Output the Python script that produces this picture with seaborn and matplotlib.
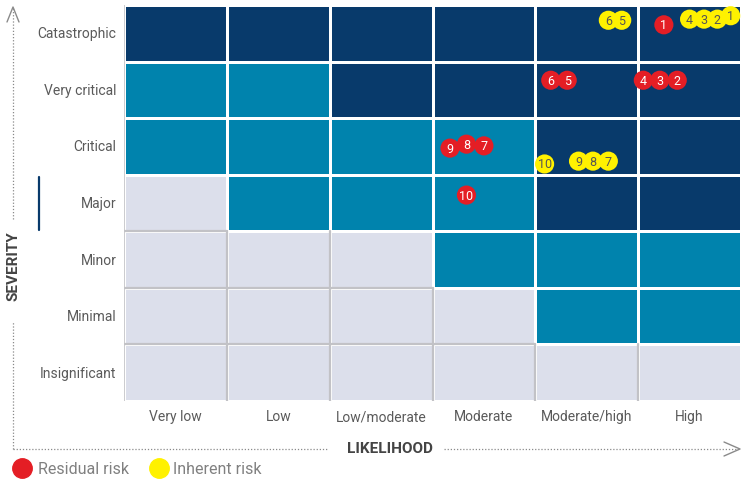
import numpy as np
import pandas as pd
import matplotlib
matplotlib.use("Agg")
import matplotlib.pyplot as plt
from matplotlib.colors import ListedColormap
from matplotlib.lines import Line2D
import seaborn as sns

# ---------------- data ----------------
likelihood = ["Very low", "Low", "Low/moderate", "Moderate", "Moderate/high", "High"]
severity = ["Catastrophic", "Very critical", "Critical", "Major", "Minor", "Minimal", "Insignificant"]

# zone level per cell (0 = low, 1 = medium, 2 = high), rows top->bottom
zones = [
    [2, 2, 2, 2, 2, 2],
    [1, 1, 2, 2, 2, 2],
    [1, 1, 1, 1, 2, 2],
    [0, 1, 1, 1, 2, 2],
    [0, 0, 0, 1, 1, 1],
    [0, 0, 0, 0, 1, 1],
    [0, 0, 0, 0, 0, 0],
]

series_names = ["Residual risk", "Inherent risk"]

residual_ids = ["1", "4", "3", "2", "6", "5", "9", "8", "7", "10"]
residual_x = [5.25, 5.05, 5.21, 5.38, 4.15, 4.31, 3.17, 3.33, 3.50, 3.33]
residual_y = [0.35, 1.33, 1.33, 1.33, 1.33, 1.33, 2.53, 2.46, 2.49, 3.36]

inherent_ids = ["6", "5", "4", "3", "2", "1", "10", "9", "8", "7"]
inherent_x = [4.71, 4.84, 5.50, 5.64, 5.77, 5.90, 4.09, 4.42, 4.56, 4.71]
inherent_y = [0.27, 0.27, 0.25, 0.25, 0.25, 0.19, 2.81, 2.76, 2.76, 2.76]

# ---------------- style ----------------
W, H = 741, 481
NAVY, TEAL, LIGHT = "#083a6b", "#0083ad", "#dcdfeb"
RED, YELLOW = "#e41e25", "#fff100"
TXT = "#5a5a5a"

sns.set_theme(style="white")
plt.rcParams["font.family"] = ["Roboto", "DejaVu Sans"]

def fx(x):
    return x / W

def fy(y):
    return 1 - y / H

fig = plt.figure(figsize=(W / 100, H / 100), dpi=100)
ax = fig.add_axes([fx(124), fy(402), fx(741) - fx(124), fy(6) - fy(402)])

mat = pd.DataFrame(zones, index=severity, columns=likelihood)
sns.heatmap(mat, cmap=ListedColormap([LIGHT, TEAL, NAVY]), vmin=-0.5, vmax=2.5,
            cbar=False, linewidths=2, linecolor="white", ax=ax)

# gray separators between two low-zone cells
GRAY = "#c2c2c6"
nr, nc = len(zones), len(zones[0])
for r in range(nr):
    for c in range(nc):
        if zones[r][c] != 0:
            continue
        if c + 1 < nc and zones[r][c + 1] == 0:
            ax.plot([c + 1, c + 1], [r, r + 1], color=GRAY, lw=1.6, zorder=2)
        if r + 1 < nr and zones[r + 1][c] == 0:
            ax.plot([c, c + 1], [r + 1, r + 1], color=GRAY, lw=1.6, zorder=2)
ax.plot([0, 0], [0, nr], color=GRAY, lw=1.2, zorder=2)

ax.tick_params(length=0)
ax.set_xticklabels(likelihood, rotation=0, color=TXT, fontsize=10)
ax.set_yticklabels(severity, rotation=0, color=TXT, fontsize=10)
ax.tick_params(axis="x", pad=6)
ax.tick_params(axis="y", pad=5.5)

# points
pts = pd.DataFrame({
    "x": residual_x + inherent_x,
    "y": residual_y + inherent_y,
    "id": residual_ids + inherent_ids,
    "type": [series_names[0]] * len(residual_x) + [series_names[1]] * len(inherent_x),
})
sns.scatterplot(data=pts, x="x", y="y", hue="type",
                palette={series_names[0]: RED, series_names[1]: YELLOW},
                s=190, linewidth=0, legend=False, ax=ax, zorder=5)
for _, p in pts.iterrows():
    col = "white" if p["type"] == series_names[0] else "#555555"
    ax.text(p["x"], p["y"], p["id"], ha="center", va="center", fontsize=9,
            color=col, zorder=6)
ax.set_xlim(0, 6)
ax.set_ylim(7, 0)
ax.set_xlabel("")
ax.set_ylabel("")

# dotted axes (broken around the titles) with open arrow heads
dot = dict(color="#8a8a8a", lw=0.9, linestyle=(0, (1, 1.5)), transform=fig.transFigure)
fig.add_artist(Line2D([fx(13), fx(13)], [fy(450), fy(323)], **dot))
fig.add_artist(Line2D([fx(13), fx(13)], [fy(220), fy(9)], **dot))
fig.add_artist(Line2D([fx(13), fx(327)], [fy(450), fy(450)], **dot))
fig.add_artist(Line2D([fx(444), fx(738)], [fy(450), fy(450)], **dot))
arr = dict(color="#8a8a8a", lw=1.0, transform=fig.transFigure)
fig.add_artist(Line2D([fx(7), fx(13), fx(19)], [fy(23), fy(8), fy(23)], **arr))
fig.add_artist(Line2D([fx(724), fx(740), fx(724)], [fy(443), fy(450), fy(457)], **arr))

# marker next to "Major"
fig.add_artist(Line2D([fx(39), fx(39)], [fy(178), fy(231)], color=NAVY, lw=1.6,
                      transform=fig.transFigure))

fig.text(fx(14), fy(266), "SEVERITY", rotation=90, ha="center", va="center",
         fontsize=11, fontweight="bold", color="#444444")
fig.text(fx(390), fy(449), "LIKELIHOOD", ha="center", va="center",
         fontsize=11, fontweight="bold", color="#444444")

# legend
for cx, tx, colr, name in [(22, 38, RED, series_names[0]), (159, 173, YELLOW, series_names[1])]:
    fig.add_artist(Line2D([fx(cx)], [fy(469)], marker="o", ms=14, color=colr, lw=0,
                          transform=fig.transFigure))
    fig.text(fx(tx), fy(470), name, ha="left", va="center", fontsize=11.5, color="#808080")

fig.savefig("out.png", dpi=100)
